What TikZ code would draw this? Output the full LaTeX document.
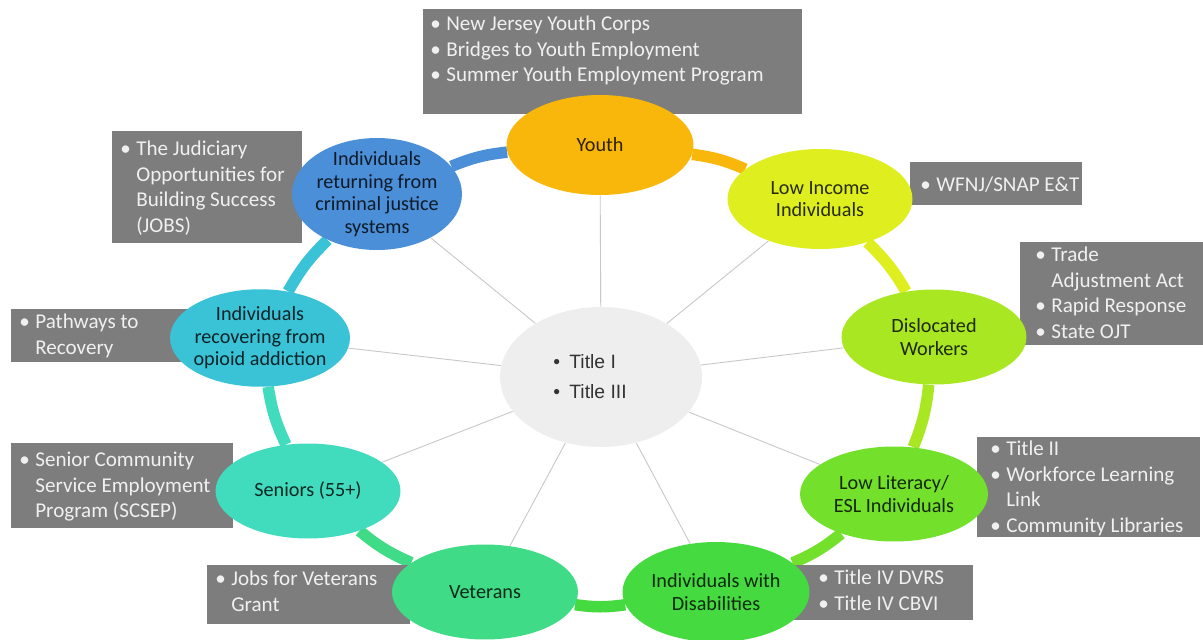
\documentclass[tikz,border=0pt]{standalone}
\usepackage{fontspec}
\setmainfont{Carlito}
\newfontfamily\arialfont{Liberation Sans}
\usetikzlibrary{shapes.geometric,backgrounds}
\definecolor{youthc}{HTML}{F9B70C}
\definecolor{lowincc}{HTML}{DEEE1F}
\definecolor{dislocc}{HTML}{A9E722}
\definecolor{litc}{HTML}{73E02B}
\definecolor{disabc}{HTML}{45DB40}
\definecolor{vetc}{HTML}{3FDB86}
\definecolor{senc}{HTML}{41DBBD}
\definecolor{opic}{HTML}{3AC3D7}
\definecolor{crimc}{HTML}{4B8FD8}
\definecolor{hubc}{HTML}{EEEEEE}
\definecolor{boxc}{HTML}{7D7D7D}
\newcommand{\itm}[1]{\makebox[0.32cm][l]{\textbullet}#1}
\newcommand{\cnt}[1]{\hspace*{0.32cm}#1}
\tikzset{
  grp/.style={ellipse, fill=#1, text=#1!18!black, align=center, inner sep=-3pt,
    font=\fontsize{11.5}{12.8}\selectfont},
  ring/.style={draw=#1, line width=0.23cm},
  spoke/.style={draw=black!22, line width=0.5pt},
  infobox/.style={fill=boxc, inner sep=0pt, anchor=north west},
  infotext/.style={text=white!94!black, align=left, inner sep=0pt, anchor=north west,
    font=\fontsize{12}{14.5}\selectfont}
}
\begin{document}
\begin{tikzpicture}[x=0.02cm,y=-0.02cm]
\useasboundingbox (0,0) rectangle (1203,639);
% program boxes
\node[infobox,minimum width=7.58cm,minimum height=2.1cm] (youthbox) at (423,9) {};
\node[infotext] (youthtxt) at (430,16) {\itm{New Jersey Youth Corps}\\\itm{Bridges to Youth Employment}\\\itm{Summer Youth Employment Program}};
\node[infobox,minimum width=3.8cm,minimum height=2.24cm] (crimbox) at (112,131) {};
\node[infotext] (crimtxt) at (120,141) {\itm{The Judiciary}\\\cnt{Opportunities for}\\\cnt{Building Success}\\\cnt{(JOBS)}};
\node[infobox,minimum width=3.9cm,minimum height=1.06cm] (opibox) at (11,309) {};
\node[infotext] (opitxt) at (19,314) {\itm{Pathways to}\\\cnt{Recovery}};
\node[infobox,minimum width=4.44cm,minimum height=1.7cm] (senbox) at (11,443) {};
\node[infotext] (sentxt) at (19,452) {\itm{Senior Community}\\\cnt{Service Employment}\\\cnt{Program (SCSEP)}};
\node[infobox,minimum width=4.06cm,minimum height=1.18cm] (vetbox) at (207,565) {};
\node[infotext] (vettxt) at (215,571) {\itm{Jobs for Veterans}\\\cnt{Grant}};
\node[infobox,minimum width=3.66cm,minimum height=1.1cm] (disabbox) at (790,565) {};
\node[infotext] (disabtxt) at (818,570) {\itm{Title IV DVRS}\\\itm{Title IV CBVI}};
\node[infobox,minimum width=4.46cm,minimum height=2.0cm] (litbox) at (977,437) {};
\node[infotext] (littxt) at (990,441) {\itm{Title II}\\\itm{Workforce Learning}\\\cnt{Link}\\\itm{Community Libraries}};
\node[infobox,minimum width=3.66cm,minimum height=2.06cm] (dislocbox) at (1020,242) {};
\node[infotext] (disloctxt) at (1035,247) {\itm{Trade}\\\cnt{Adjustment Act}\\\itm{Rapid Response}\\\itm{State OJT}};
\node[infobox,minimum width=3.44cm,minimum height=0.86cm] (lowincbox) at (910,162) {};
\node[infotext] (lowinctxt) at (920,177) {\itm{WFNJ/SNAP E\&T}};
% target groups
\node[grp=youthc,minimum width=3.74cm,minimum height=2cm] (youth) at (600,145) {Youth};
\node[grp=lowincc,minimum width=3.7cm,minimum height=2cm] (lowinc) at (820,199) {Low Income\\Individuals};
\node[grp=dislocc,minimum width=3.7cm,minimum height=1.9cm] (disloc) at (934,337) {Dislocated\\Workers};
\node[grp=litc,minimum width=3.76cm,minimum height=1.9cm] (lowlit) at (894,494) {Low Literacy/\\ESL Individuals};
\node[grp=disabc,minimum width=3.74cm,minimum height=2cm] (disab) at (716,592) {Individuals with\\Disabilities};
\node[grp=vetc,minimum width=3.72cm,minimum height=1.9cm] (vet) at (485,592) {Veterans};
\node[grp=senc,minimum width=3.7cm,minimum height=1.9cm] (sen) at (308,491) {Seniors (55+)};
\node[grp=opic,minimum width=3.6cm,minimum height=1.95cm] (opi) at (260,338) {Individuals\\recovering from\\opioid addiction};
\node[grp=crimc,minimum width=3.4cm,minimum height=2.24cm] (crim) at (377,194) {Individuals\\returning from\\criminal justice\\systems};
\node[ellipse,fill=hubc,text=black!80,align=left,minimum width=4.04cm,minimum height=2.8cm,
  font=\arialfont\fontsize{11}{17}\selectfont] (hub) at (601,377) {\itm{Title I}\\\itm{Title III}\hspace*{0.44cm}};
\begin{scope}[on background layer]
\fill[white] (0,0) rectangle (1203,639);
\foreach \n in {youth,lowinc,disloc,lowlit,disab,vet,sen,opi,crim}
  \draw[spoke] (hub) -- (\n);
\foreach \a/\b/\c in {youth/lowinc/youthc,lowinc/disloc/lowincc,disloc/lowlit/dislocc,
  lowlit/disab/litc,disab/vet/disabc,vet/sen/vetc,sen/opi/senc,opi/crim/opic,crim/youth/crimc}
  \draw[ring=\c] (\a) to[bend left=8] (\b);
\end{scope}
\end{tikzpicture}
\end{document}
